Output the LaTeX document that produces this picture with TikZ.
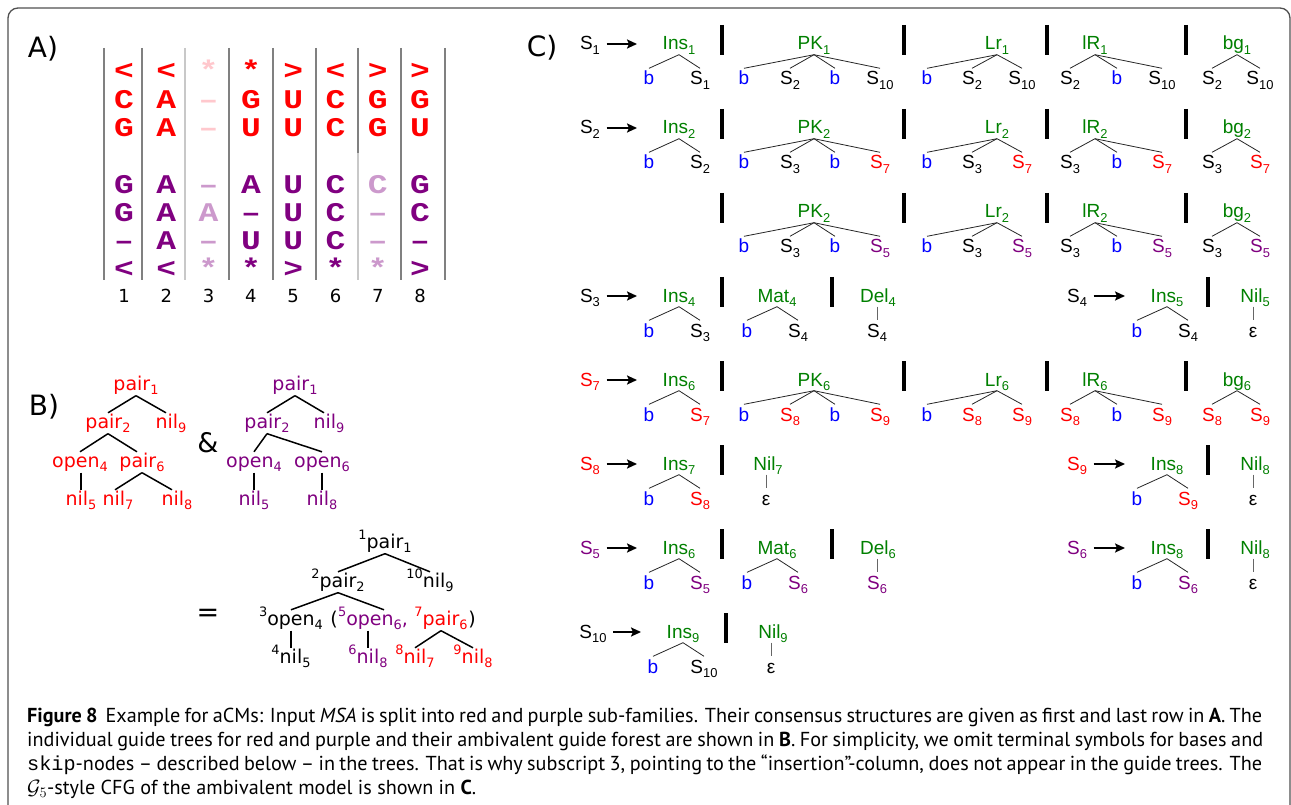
\documentclass[tikz,border=0pt]{standalone}
\usepackage{fontspec}
\usetikzlibrary{arrows.meta,calc}
\newfontfamily\dvs{DejaVu Sans}
\newfontfamily\hel{Liberation Sans}
\newfontfamily\monob{Liberation Mono}
\newfontfamily\capf{PT Sans}
\newfontfamily\capmono{Liberation Mono}

\definecolor{ared}{RGB}{255,0,0}
\definecolor{apur}{RGB}{128,0,128}
\definecolor{apk}{RGB}{255,200,205}
\definecolor{alp}{RGB}{204,153,204}
\definecolor{cgreen}{RGB}{0,128,0}
\definecolor{cblue}{RGB}{0,0,255}
\definecolor{framec}{RGB}{80,80,80}
\definecolor{vgray}{RGB}{128,128,128}
\definecolor{vlight}{RGB}{200,200,200}

\newcommand\lo[1]{\raisebox{-0.22em}{\scalebox{0.68}{#1}}}
\newcommand\hi[1]{\raisebox{0.45em}{\scalebox{0.68}{#1}}}
% wide bold alignment glyph
\newcommand\wide[1]{\scalebox{1.22}[1]{#1}}

\tikzset{
  acell/.style={font=\monob\bfseries\fontsize{27}{27}\selectfont, inner sep=0pt, anchor=base},
  num/.style={font=\dvs\fontsize{18}{18}\selectfont, inner sep=0pt, anchor=base},
  panel/.style={font=\dvs\fontsize{28}{28}\selectfont, inner sep=0pt},
  colline/.style={line width=2pt, draw=vgray},
  bt/.style={font=\dvs\fontsize{19}{19}\selectfont, inner sep=1pt, text height=14pt, text depth=4.5pt, anchor=base},
  btr/.style={bt, text=ared}, btp/.style={bt, text=apur}, btk/.style={bt, text=black},
  bedge/.style={line width=1.5pt},
  ctxt/.style={font=\hel\fontsize{19}{19}\selectfont, inner sep=1.5pt, text height=15pt, text depth=3pt, anchor=base},
  cg/.style={ctxt, text=cgreen}, cb/.style={ctxt, text=cblue}, ck/.style={ctxt, text=black},
  cr/.style={ctxt, text=ared}, cp/.style={ctxt, text=apur},
  tline/.style={line width=0.8pt, draw=black!85},
  vline/.style={line width=0.8pt, draw=black!60},
  sepbar/.style={line width=3.5pt},
  prod/.style={line width=2pt, -{Stealth[length=10pt,width=9pt,inset=2pt]}, shorten <=5pt, shorten >=24pt},
  capline/.style={font=\capf\fontsize{20.2}{20.2}\selectfont, inner sep=0pt, anchor=base west},
}

% grammar helpers: head node, child with its connector, separator bar
\newcommand\hd[4]{\node[cg] (#1) at (#2,{50+84*#3}) {#4};}
\newcommand\kid[6]{\node[#5] (#2) at (#3,{85+84*#4}) {#6};\draw[tline] (#1.south) -- (#2.north);}
\newcommand\vkid[6]{\node[#5] (#2) at (#3,{85+84*#4}) {#6};\draw[vline] (#2.north |- #1.south) -- (#2.north);}
\newcommand\sepbar[2]{\draw[sepbar] (#1,{25+84*#2}) -- (#1,{55+84*#2});}
\newcommand\lhs[6]{\node[#4] (#1) at (#2,{50+84*#3}) {#5};\draw[prod] (#1.east) -- (#6.west);}
% Ins tree: row, name, x, head subscript, style of S, text of S
\newcommand\instree[6]{\hd{#2}{#3}{#1}{Ins\lo{#4}}
  \kid{#2}{#2a}{#3-30}{#1}{cb}{b}\kid{#2}{#2b}{#3+21}{#1}{#5}{#6}}
% PK | Lr | lR | bg alternatives: row, subscript, style/text of S_i, style/text of S_j
\newcommand\pkset[6]{%
  \sepbar{722}{#1}
  \hd{p#1}{814}{#1}{PK\lo{#2}}
  \kid{p#1}{p#1a}{744}{#1}{cb}{b}
  \kid{p#1}{p#1b}{790}{#1}{#3}{#4}
  \kid{p#1}{p#1c}{835}{#1}{cb}{b}
  \kid{p#1}{p#1d}{880}{#1}{#5}{#6}
  \sepbar{904}{#1}
  \hd{L#1}{997}{#1}{Lr\lo{#2}}
  \kid{L#1}{L#1a}{927}{#1}{cb}{b}
  \kid{L#1}{L#1b}{972}{#1}{#3}{#4}
  \kid{L#1}{L#1c}{1022}{#1}{#5}{#6}
  \sepbar{1047}{#1}
  \hd{R#1}{1095}{#1}{lR\lo{#2}}
  \kid{R#1}{R#1a}{1070}{#1}{#3}{#4}
  \kid{R#1}{R#1b}{1117}{#1}{cb}{b}
  \kid{R#1}{R#1c}{1162}{#1}{#5}{#6}
  \sepbar{1186}{#1}
  \hd{g#1}{1237}{#1}{bg\lo{#2}}
  \kid{g#1}{g#1a}{1212}{#1}{#3}{#4}
  \kid{g#1}{g#1b}{1260}{#1}{#5}{#6}}

\begin{document}
\begin{tikzpicture}[x=1pt,y=-1pt]
\useasboundingbox (0,0) rectangle (1291,805);
\fill[white] (0,0) rectangle (1291,805);
\draw[framec, line width=1.3pt, rounded corners=10pt] (8,806) -- (8,8) -- (1290,8) -- (1290,806);

% ---------------- A) alignment ----------------
\node[panel] (labA) at (43,49) {A)};
\foreach \x in {104,142,229,273,316,401,445} \draw[colline] (\x,48) -- (\x,280);
\draw[colline, draw=vlight] (185,48) -- (185,280);
\draw[colline] (358,48) -- (358,153);
\draw[colline, draw=vlight] (358,153) -- (358,280);
\foreach \ch/\col [count=\c] in {</ared,</ared,*/apk,*/ared,>/ared,</ared,>/ared,>/ared}
  \node[acell, text=\col] (a1\c) at ({124+42.3*(\c-1)},80) {\wide{\ch}};
\foreach \ch/\col [count=\c] in {C/ared,A/ared,–/apk,G/ared,U/ared,C/ared,G/ared,G/ared}
  \node[acell, text=\col] (a2\c) at ({124+42.3*(\c-1)},109) {\wide{\ch}};
\foreach \ch/\col [count=\c] in {G/ared,A/ared,–/apk,U/ared,U/ared,C/ared,G/ared,U/ared}
  \node[acell, text=\col] (a3\c) at ({124+42.3*(\c-1)},137) {\wide{\ch}};
\foreach \ch/\col [count=\c] in {G/apur,A/apur,–/alp,A/apur,U/apur,C/apur,C/alp,G/apur}
  \node[acell, text=\col] (a4\c) at ({124+42.3*(\c-1)},194) {\wide{\ch}};
\foreach \ch/\col [count=\c] in {G/apur,A/apur,A/alp,–/apur,U/apur,C/apur,–/alp,C/apur}
  \node[acell, text=\col] (a5\c) at ({124+42.3*(\c-1)},222) {\wide{\ch}};
\foreach \ch/\col [count=\c] in {–/apur,A/apur,–/alp,U/apur,U/apur,C/apur,–/alp,–/apur}
  \node[acell, text=\col] (a6\c) at ({124+42.3*(\c-1)},250) {\wide{\ch}};
\foreach \ch/\col [count=\c] in {</apur,</apur,*/alp,*/apur,>/apur,*/apur,*/alp,>/apur}
  \node[acell, text=\col] (a7\c) at ({124+42.3*(\c-1)},277) {\wide{\ch}};
\foreach \n in {1,...,8}
  \node[num] (col\n) at ({124+42.3*(\n-1)},302) {\n};

% ---------------- B) guide trees ----------------
\node[panel] (labB) at (44,407) {B)};
% red sub-family
\node[btr] (rp1) at (136,390) {pair\lo1};
\node[btr] (rp2) at (108,428) {pair\lo2};
\node[btr] (rn9) at (171,428) {nil\lo9};
\node[btr] (ro4) at (80,467) {open\lo4};
\node[btr] (rp6) at (142,467) {pair\lo6};
\node[btr] (rn5) at (81,505) {nil\lo5};
\node[btr] (rn7) at (118,505) {nil\lo7};
\node[btr] (rn8) at (177,505) {nil\lo8};
\draw[bedge] (rp1.south) -- (rp2.north);
\draw[bedge] (rp1.south) -- ([xshift=-5pt]rn9.north);
\draw[bedge] (rp2.south) -- (ro4.north);
\draw[bedge] (rp2.south) -- ([xshift=-5pt]rp6.north);
\draw[bedge] (rn5.north |- ro4.south) -- (rn5.north);
\draw[bedge] (rp6.south) -- ([xshift=-3pt]rn7.north);
\draw[bedge] (rp6.south) -- ([xshift=-5pt]rn8.north);
\node[font=\dvs\fontsize{27}{27}\selectfont, inner sep=0pt] (amp) at (208,443) {\&};
% purple sub-family
\node[btp] (pp1) at (295,390) {pair\lo1};
\node[btp] (pp2) at (267,428) {pair\lo2};
\node[btp] (pn9) at (329,428) {nil\lo9};
\node[btp] (po4) at (254,467) {open\lo4};
\node[btp] (po6) at (322,467) {open\lo6};
\node[btp] (pn5) at (254,505) {nil\lo5};
\node[btp] (pn8) at (322,505) {nil\lo8};
\draw[bedge] (pp1.south) -- (pp2.north);
\draw[bedge] (pp1.south) -- ([xshift=-5pt]pn9.north);
\draw[bedge] (pp2.south) -- (po4.north);
\draw[bedge] (pp2.south) -- (po6.north);
\draw[bedge] (pn5.north |- po4.south) -- (pn5.north);
\draw[bedge] (pn8.north |- po6.south) -- (pn8.north);
% ambivalent guide forest
\node[font=\dvs\fontsize{27}{27}\selectfont, inner sep=0pt] (eq) at (208,615) {=};
\node[btk] (mp1) at (385,548) {\hi1pair\lo1};
\node[btk] (mp2) at (338,587) {\hi2pair\lo2};
\node[btk] (mn9) at (430,587) {\hi{10}nil\lo9};
\node[btk] (mo4) at (291,625) {\hi3open\lo4};
\node[btk] (mlp) at (334,625) {(};
\node[btp] (mo6) at (370,625) {\hi5open\lo6};
\node[btp] (mcm) at (405,625) {,};
\node[btr] (mp6) at (441,625) {\hi7pair\lo6};
\node[btk] (mrp) at (472,625) {)};
\node[btk] (mn5) at (291,663) {\hi4nil\lo5};
\node[btp] (mn8a) at (368,663) {\hi6nil\lo8};
\node[btr] (mn7) at (415,663) {\hi8nil\lo7};
\node[btr] (mn8b) at (473,663) {\hi9nil\lo8};
\draw[bedge] (mp1.south) -- (mp2.north);
\draw[bedge] (mp1.south) -- (mn9.north);
\draw[bedge] (mp2.south) -- (mo4.north);
\draw[bedge] (mp2.south) -- ([xshift=14pt]mo6.north);
\draw[bedge] (mn5.north |- mo4.south) -- (mn5.north);
\draw[bedge] (mn8a.north |- mo6.south) -- (mn8a.north);
\draw[bedge] (mp6.south) -- (mn7.north);
\draw[bedge] (mp6.south) -- (mn8b.north);

% ---------------- C) grammar ----------------
\node[panel] (labC) at (542,48) {C)};
% S1
\instree{0}{i0}{679}{1}{ck}{S\lo1}
\lhs{l0}{590}{0}{ck}{S\lo1}{i0}
\pkset{0}{1}{ck}{S\lo2}{ck}{S\lo{10}}
% S2
\instree{1}{i1}{679}{2}{ck}{S\lo2}
\lhs{l1}{590}{1}{ck}{S\lo2}{i1}
\pkset{1}{2}{ck}{S\lo3}{cr}{S\lo7}
\pkset{2}{2}{ck}{S\lo3}{cp}{S\lo5}
% S3 and S4
\instree{3}{i3}{679}{4}{ck}{S\lo3}
\lhs{l3}{590}{3}{ck}{S\lo3}{i3}
\sepbar{722}{3}
\hd{m3}{777}{3}{Mat\lo4}
\kid{m3}{m3a}{747}{3}{cb}{b}
\kid{m3}{m3b}{798}{3}{ck}{S\lo4}
\sepbar{832}{3}
\hd{d3}{878}{3}{Del\lo4}
\vkid{d3}{d3a}{877}{3}{ck}{S\lo4}
\instree{3}{j3}{1167}{5}{ck}{S\lo4}
\lhs{k3}{1077}{3}{ck}{S\lo4}{j3}
\sepbar{1208}{3}
\hd{n3}{1255}{3}{Nil\lo5}
\vkid{n3}{n3a}{1253}{3}{ck}{ε}
% S7
\instree{4}{i4}{679}{6}{cr}{S\lo7}
\lhs{l4}{590}{4}{cr}{S\lo7}{i4}
\pkset{4}{6}{cr}{S\lo8}{cr}{S\lo9}
% S8 and S9
\instree{5}{i5}{679}{7}{cr}{S\lo8}
\lhs{l5}{590}{5}{cr}{S\lo8}{i5}
\sepbar{722}{5}
\hd{n5}{768}{5}{Nil\lo7}
\vkid{n5}{n5a}{766}{5}{ck}{ε}
\instree{5}{j5}{1167}{8}{cr}{S\lo9}
\lhs{k5}{1077}{5}{cr}{S\lo9}{j5}
\sepbar{1208}{5}
\hd{q5}{1255}{5}{Nil\lo8}
\vkid{q5}{q5a}{1253}{5}{ck}{ε}
% S5 and S6
\instree{6}{i6}{679}{6}{cp}{S\lo5}
\lhs{l6}{590}{6}{cp}{S\lo5}{i6}
\sepbar{722}{6}
\hd{m6}{777}{6}{Mat\lo6}
\kid{m6}{m6a}{747}{6}{cb}{b}
\kid{m6}{m6b}{798}{6}{cp}{S\lo6}
\sepbar{832}{6}
\hd{d6}{878}{6}{Del\lo6}
\vkid{d6}{d6a}{877}{6}{cp}{S\lo6}
\instree{6}{j6}{1167}{8}{cp}{S\lo6}
\lhs{k6}{1077}{6}{cp}{S\lo6}{j6}
\sepbar{1208}{6}
\hd{q6}{1255}{6}{Nil\lo8}
\vkid{q6}{q6a}{1253}{6}{ck}{ε}
% S10
\instree{7}{i7}{683}{9}{ck}{S\lo{10}}
\lhs{l7}{593}{7}{ck}{S\lo{10}}{i7}
\sepbar{726}{7}
\hd{n7}{773}{7}{Nil\lo9}
\vkid{n7}{n7a}{771}{7}{ck}{ε}

% ---------------- caption ----------------
\node[capline] (cap1) at (27,722) {\makebox[1235pt][s]{\textbf{Figure 8}\hspace{0.4em}Example for aCMs: Input \textit{MSA} is split into red and purple sub-families. Their consensus structures are given as first and last row in \textbf{A}. The}};
\node[capline] (cap2) at (27,746) {\makebox[1236pt][s]{individual guide trees for red and purple and their ambivalent guide forest are shown in \textbf{B}. For simplicity, we omit terminal symbols for bases and}};
\node[capline] (cap3) at (27,770) {\makebox[1235pt][s]{{\capmono skip}-nodes – described below – in the trees. That is why subscript 3, pointing to the “insertion”-column, does not appear in the guide trees. The}};
\node[capline] (cap4) at (27,794) {$\mathcal{G}_5$-style CFG of the ambivalent model is shown in \textbf{C}.};
\end{tikzpicture}
\end{document}
